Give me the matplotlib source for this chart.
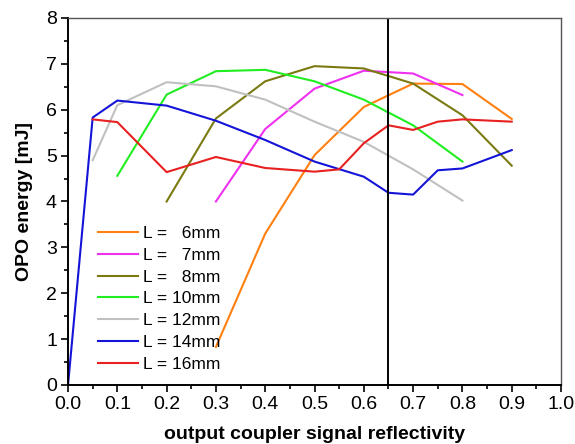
import matplotlib.pyplot as plt
from matplotlib.ticker import MultipleLocator

plt.rcParams['font.family'] = ['Liberation Sans', 'DejaVu Sans']

# OPO energy vs output coupler reflectivity, one curve per crystal length
x_6 = [0.3, 0.4, 0.5, 0.6, 0.7, 0.8, 0.9]
y_6 = [0.83, 3.30, 5.01, 6.06, 6.57, 6.56, 5.80]

x_7 = [0.3, 0.4, 0.5, 0.6, 0.7, 0.8]
y_7 = [4.00, 5.58, 6.46, 6.85, 6.79, 6.32]

x_8 = [0.2, 0.3, 0.4, 0.5, 0.6, 0.7, 0.8, 0.9]
y_8 = [4.00, 5.81, 6.62, 6.95, 6.90, 6.57, 5.88, 4.78]

x_10 = [0.1, 0.2, 0.3, 0.4, 0.5, 0.6, 0.7, 0.8]
y_10 = [4.56, 6.33, 6.84, 6.87, 6.62, 6.22, 5.66, 4.87]

x_12 = [0.05, 0.1, 0.2, 0.3, 0.4, 0.5, 0.6, 0.7, 0.8]
y_12 = [4.90, 6.10, 6.60, 6.51, 6.22, 5.74, 5.30, 4.70, 4.02]

x_14 = [0.0, 0.05, 0.1, 0.2, 0.3, 0.4, 0.5, 0.6, 0.65, 0.7, 0.75, 0.8, 0.9]
y_14 = [0.0, 5.83, 6.20, 6.09, 5.76, 5.34, 4.87, 4.54, 4.19, 4.15, 4.68, 4.72, 5.12]

x_16 = [0.05, 0.1, 0.2, 0.3, 0.4, 0.5, 0.55, 0.6, 0.65, 0.7, 0.75, 0.8, 0.9]
y_16 = [5.79, 5.73, 4.64, 4.97, 4.73, 4.65, 4.70, 5.27, 5.66, 5.56, 5.74, 5.79, 5.74]

labels = ['L =   6mm', 'L =   7mm', 'L =   8mm', 'L = 10mm', 'L = 12mm', 'L = 14mm', 'L = 16mm']
colors = ['#FF8010', '#F030F0', '#7A7A10', '#20EE20', '#C0C0C0', '#1414D8', '#E82020']
xs = [x_6, x_7, x_8, x_10, x_12, x_14, x_16]
ys = [y_6, y_7, y_8, y_10, y_12, y_14, y_16]

r_mark = 0.65

fig = plt.figure(figsize=(5.75, 4.44), dpi=100)
ax = fig.add_axes([0.1183, 0.1329, 0.8574, 0.8266])

for x, y, c, lab in zip(xs, ys, colors, labels):
    ax.plot(x, y, color=c, lw=1.5, label=lab)

ax.axvline(r_mark, color='black', lw=1.4)

ax.set_xlim(0, 1.0)
ax.set_ylim(0, 8)
ax.xaxis.set_major_locator(MultipleLocator(0.1))
ax.xaxis.set_minor_locator(MultipleLocator(0.05))
ax.yaxis.set_major_locator(MultipleLocator(1))
ax.yaxis.set_minor_locator(MultipleLocator(0.5))
ax.xaxis.set_major_formatter(plt.FuncFormatter(lambda v, p: f'{v:.1f}'))
ax.tick_params(which='both', direction='out', top=False, right=False, labelsize=14, width=1.2)
ax.tick_params(which='major', length=5, pad=3)
ax.tick_params(which='minor', length=3)

for s in ['left', 'bottom']:
    ax.spines[s].set_linewidth(1.4)
for s in ['top', 'right']:
    ax.spines[s].set_linewidth(1.0)
    ax.spines[s].set_color('#555555')

ax.set_xlabel('output coupler signal reflectivity', fontsize=14, fontweight='bold', labelpad=9)
ax.set_ylabel('OPO energy [mJ]', fontsize=14, fontweight='bold', labelpad=9)

ax.legend(loc='upper left', bbox_to_anchor=(98 / 575, 1 - 226 / 444),
          bbox_transform=fig.transFigure, frameon=False, fontsize=12.5,
          handlelength=2.3, handletextpad=0.3, labelspacing=0.38, borderpad=0, borderaxespad=0)

fig.savefig('out.png', dpi=100)
